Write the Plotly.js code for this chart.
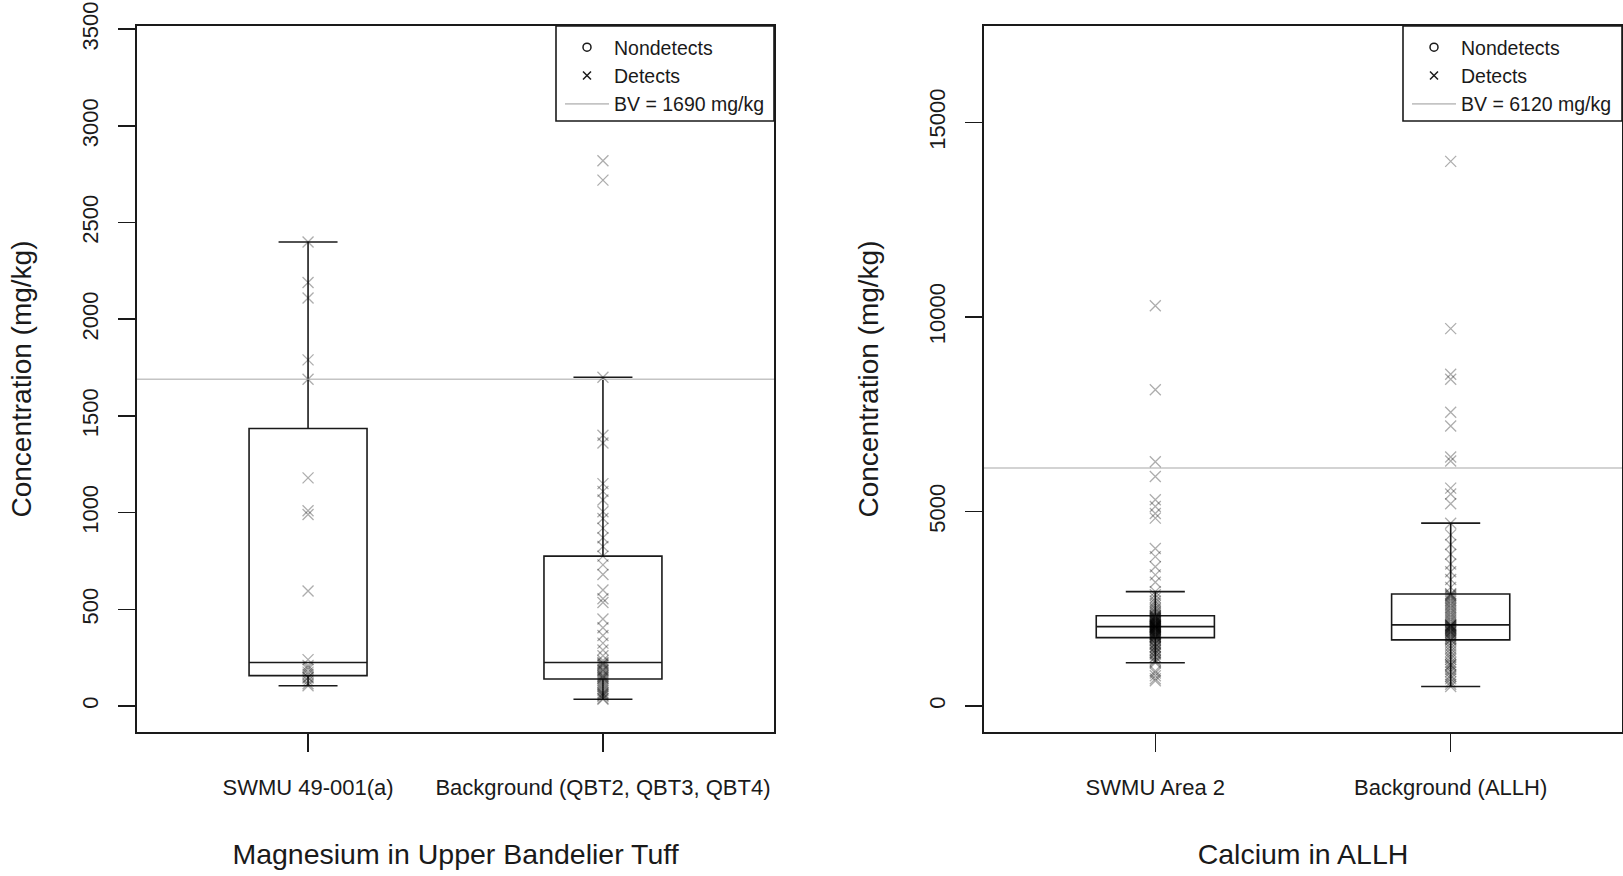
<!DOCTYPE html>
<html>
<head>
<meta charset="utf-8">
<script src="https://cdn.plot.ly/plotly-3.0.1.min.js"></script>
<style>html,body{margin:0;padding:0;background:#fff;}#chart{width:1623px;height:876px;}</style>
</head>
<body>
<div id="chart"></div>
<script>
// ---------------- Data: Magnesium in Upper Bandelier Tuff ----------------
const mgCategories = ['SWMU 49-001(a)', 'Background (QBT2, QBT3, QBT4)'];
const mgSwmuDetects = [2400, 2190, 2110, 1790, 1690, 1180, 1010, 990, 595, 240,
  210, 200, 190, 175, 164, 150, 145, 130, 115, 105];
const mgBgDetects = [2820, 2720, 1700, 1400, 1360, 1150, 1110, 1065, 1005, 970,
  920, 870, 825, 775, 730, 680, 600, 555, 535, 450, 405, 365, 325, 290, 260, 235,
  225, 220, 215, 210, 200, 190, 185, 180, 170, 160, 155, 150, 145, 140, 130, 120,
  110, 100, 90, 80, 70, 65, 60, 55, 50, 40, 35];
const mgNondetects = [];
const mgBoxLower = [105, 35];
const mgBoxQ1 = [157, 140];
const mgBoxMedian = [225, 225];
const mgBoxQ3 = [1435, 775];
const mgBoxUpper = [2400, 1700];
const mgBV = 1690;
const mgYTicks = [0, 500, 1000, 1500, 2000, 2500, 3000, 3500];
const mgTitle = 'Magnesium in Upper Bandelier Tuff';

// ---------------- Data: Calcium in ALLH ----------------
const caCategories = ['SWMU Area 2', 'Background (ALLH)'];
const caSwmuDetects = [650, 700, 780, 850, 900, 1114,
  1150, 1190, 1250, 1270, 1330, 1360, 1380, 1430, 1440, 1490, 1520, 1530, 1580, 1610, 1620, 1670, 1700, 1720, 1750,
  1765, 1775, 1790, 1800, 1815, 1830, 1840, 1850, 1865, 1880, 1890, 1900, 1910, 1925, 1940, 1950, 1960, 1970, 1980, 1990, 2000, 2010, 2020, 2030, 2035,
  2045, 2050, 2060, 2070, 2080, 2090, 2100, 2110, 2120, 2135, 2150, 2160, 2170, 2180, 2190, 2200, 2215, 2230, 2240, 2250, 2260, 2275, 2290, 2300, 2315,
  2325, 2360, 2400, 2430, 2480, 2520, 2580, 2640, 2700, 2780, 2860, 2940,
  3180, 3370, 3580, 3840, 4050, 4830, 4950, 5130, 5300, 5900, 6280, 8130, 10290];
const caBgDetects = [500, 560, 620, 700, 760, 800, 880, 940, 1000, 1050, 1060, 1120, 1200, 1260, 1330, 1400, 1480, 1550, 1620, 1690,
  1710, 1740, 1770, 1800, 1830, 1850, 1880, 1900, 1910, 1930, 1950, 1970, 1990, 2000, 2010, 2030, 2040, 2060, 2070, 2080,
  2090, 2130, 2180, 2220, 2270, 2310, 2360, 2400, 2450, 2500, 2540, 2590, 2630, 2680, 2720, 2760, 2800, 2830, 2850, 2870,
  2890, 3050, 3250, 3450, 3650, 3900, 4150, 4400, 4700,
  5200, 5450, 5600, 6300, 6400, 7200, 7550, 8400, 8530, 9700, 14000];
const caNondetects = [];
const caBoxLower = [1114, 500];
const caBoxQ1 = [1757, 1700];
const caBoxMedian = [2040, 2085];
const caBoxQ3 = [2320, 2880];
const caBoxUpper = [2940, 4700];
const caBV = 6120;
const caYTicks = [0, 5000, 10000, 15000];
const caTitle = 'Calcium in ALLH';

const yTitle = 'Concentration (mg/kg)';

// ---------------- Styling / layout ----------------
const W = 1623, H = 876;
const FONT = 'Liberation Sans, Arial, Helvetica, sans-serif';
const INK = '#1a1a1a';
const xRange = [0.42, 2.58];
const plotTop = 1 - 26 / H, plotBottom = 1 - 732 / H;
const leftDom = [137 / W, 774 / W];
const rightDom = [984 / W, 1622 / W];

function panelTraces(xa, ya, legendId, cats, groups, nondetects, lower, q1, med, q3, upper, bv) {
  const traces = [];
  const pos = cats.map((c, i) => i + 1);
  // BV line
  traces.push({
    type: 'scatter', mode: 'lines', x: xRange, y: [bv, bv], xaxis: xa, yaxis: ya,
    line: {color: '#c4c4c4', width: 1.6}, name: 'BV = ' + bv + ' mg/kg',
    legend: legendId, legendrank: 3, hoverinfo: 'skip', cliponaxis: true
  });
  // boxes
  traces.push({
    type: 'box', x: pos, q1: q1, median: med, q3: q3, lowerfence: lower, upperfence: upper,
    xaxis: xa, yaxis: ya, width: 0.4, whiskerwidth: 0.5, boxpoints: false,
    line: {color: INK, width: 1.6}, fillcolor: 'rgba(0,0,0,0)', showlegend: false, hoverinfo: 'skip'
  });
  // detects points
  groups.forEach((vals, i) => {
    traces.push({
      type: 'scatter', mode: 'markers', x: vals.map(() => pos[i]), y: vals, xaxis: xa, yaxis: ya,
      marker: {symbol: 'x-thin-open', size: 11, color: 'rgba(0,0,0,0.32)', line: {width: 1.3, color: 'rgba(0,0,0,0.32)'}},
      showlegend: false, hoverinfo: 'y'
    });
  });
  // legend entries
  traces.push({
    type: 'scatter', mode: 'markers', x: nondetects.length ? nondetects.map(() => 1) : [null],
    y: nondetects.length ? nondetects : [null], xaxis: xa, yaxis: ya,
    marker: {symbol: 'circle-open', size: 8, color: INK, line: {width: 1.5, color: INK}},
    name: 'Nondetects', legend: legendId, legendrank: 1
  });
  traces.push({
    type: 'scatter', mode: 'markers', x: [null], y: [null], xaxis: xa, yaxis: ya,
    marker: {symbol: 'x-thin-open', size: 8, color: INK, line: {width: 1.5, color: INK}},
    name: 'Detects', legend: legendId, legendrank: 2
  });
  return traces;
}

const data = [].concat(
  panelTraces('x', 'y', 'legend', mgCategories, [mgSwmuDetects, mgBgDetects], mgNondetects,
    mgBoxLower, mgBoxQ1, mgBoxMedian, mgBoxQ3, mgBoxUpper, mgBV),
  panelTraces('x2', 'y2', 'legend2', caCategories, [caSwmuDetects, caBgDetects], caNondetects,
    caBoxLower, caBoxQ1, caBoxMedian, caBoxQ3, caBoxUpper, caBV)
);

function xAxis(dom, anchor, cats, title) {
  return {
    domain: dom, anchor: anchor, range: xRange, tickmode: 'array',
    tickvals: cats.map((c, i) => i + 1), ticktext: cats,
    ticks: 'outside', ticklen: 18, tickwidth: 1.6, tickcolor: INK,
    showline: true, mirror: true, linecolor: INK, linewidth: 1.6,
    showgrid: false, zeroline: false, fixedrange: true,
    tickfont: {family: FONT, size: 22, color: INK}, ticklabelstandoff: 17,
    title: {text: title, font: {family: FONT, size: 28.5, color: INK}, standoff: 45}
  };
}
function yAxis(dom, anchor, range, ticks) {
  return {
    domain: dom, anchor: anchor, range: range, tickmode: 'array', tickvals: ticks,
    ticktext: ticks.map(v => String(v)),
    ticks: 'outside', ticklen: 17, tickwidth: 1.6, tickcolor: INK, tickangle: -90,
    showline: true, mirror: true, linecolor: INK, linewidth: 1.6,
    showgrid: false, zeroline: false, fixedrange: true,
    tickfont: {family: FONT, size: 22, color: INK}, ticklabelstandoff: 12,
    title: {text: yTitle, font: {family: FONT, size: 28, color: INK}, standoff: 38}
  };
}

const legendBox = (x0, x1) => ({
  type: 'rect', xref: 'paper', yref: 'paper', x0: x0, x1: x1, y0: 1 - 121 / H, y1: plotTop,
  line: {color: INK, width: 1.6}, fillcolor: 'rgba(0,0,0,0)', layer: 'above'
});

const legendStyle = (x) => ({
  x: x, y: plotTop - 2 / H, xanchor: 'left', yanchor: 'top', bgcolor: 'rgba(0,0,0,0)',
  borderwidth: 0, font: {family: FONT, size: 19.5, color: INK}, itemwidth: 44,
  traceorder: 'normal', itemclick: false, itemdoubleclick: false
});

const layout = {
  width: W, height: H, margin: {l: 0, r: 0, t: 0, b: 0},
  paper_bgcolor: '#fff', plot_bgcolor: '#fff', showlegend: true,
  font: {family: FONT, color: INK},
  xaxis: xAxis(leftDom, 'y', mgCategories, mgTitle),
  yaxis: yAxis([plotBottom, plotTop], 'x', [-134.5, 3517], mgYTicks),
  xaxis2: xAxis(rightDom, 'y2', caCategories, caTitle),
  yaxis2: yAxis([plotBottom, plotTop], 'x2', [-668, 17480], caYTicks),
  legend: legendStyle(560 / W),
  legend2: legendStyle(1407 / W),
  shapes: [legendBox(556 / W, leftDom[1]), legendBox(1403 / W, rightDom[1])]
};

Plotly.newPlot('chart', data, layout, {staticPlot: true, displayModeBar: false});
</script>
</body>
</html>
